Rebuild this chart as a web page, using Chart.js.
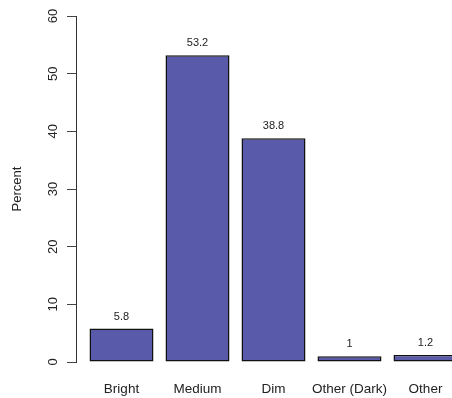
<!DOCTYPE html>
<html>
<head>
<meta charset="utf-8">
<script src="https://cdn.jsdelivr.net/npm/chart.js@4"></script>
<style>
  html, body { margin: 0; padding: 0; overflow: hidden; background: #fff; }
  #wrap { width: 472px; height: 398px; position: relative; }
</style>
</head>
<body>
<div id="wrap"><canvas id="chart"></canvas></div>
<script>
const categories = ["Bright", "Medium", "Dim", "Other (Dark)", "Other"];
const percents = [5.8, 53.2, 38.8, 1, 1.2];
const yTicks = [0, 10, 20, 30, 40, 50, 60];

const FONT = "'Liberation Sans', Arial, sans-serif";

// labels drawn above each bar
const valueLabels = {
  id: "valueLabels",
  afterDatasetsDraw(chart) {
    const ctx = chart.ctx;
    const meta = chart.getDatasetMeta(0);
    ctx.save();
    ctx.font = "11px " + FONT;
    ctx.fillStyle = "#222";
    ctx.textAlign = "center";
    ctx.textBaseline = "alphabetic";
    meta.data.forEach((bar, i) => {
      ctx.fillText(String(percents[i]), bar.x, bar.y - 9);
    });
    ctx.restore();
  },
};

new Chart(document.getElementById("chart"), {
  type: "bar",
  data: {
    datasets: [
      {
        data: percents.map((v, i) => ({ x: i, y: v })),
        backgroundColor: "rgb(90, 90, 170)",
        borderColor: "#111",
        borderWidth: 1.5,
        borderSkipped: false,
        inflateAmount: 0,
        barThickness: 64,
      },
    ],
  },
  options: {
    responsive: true,
    maintainAspectRatio: false,
    animation: false,
    layout: { padding: { top: 16, right: 0, bottom: 0, left: 0 } },
    plugins: {
      legend: { display: false },
      tooltip: { enabled: false },
    },
    scales: {
      x: {
        type: "linear",
        min: -0.5987,
        max: 4.6118,
        offset: false,
        grid: { display: false },
        border: { display: false },
        afterBuildTicks: (scale) => {
          scale.ticks = categories.map((c, i) => ({ value: i }));
        },
        afterFit: (scale) => {
          scale.height = 36;
        },
        ticks: {
          padding: 11,
          color: "#222",
          font: { family: FONT, size: 13.5 },
          maxRotation: 0,
          autoSkip: false,
          callback: (v) => categories[v],
        },
      },
      y: {
        min: 0,
        max: 60,
        afterBuildTicks: (scale) => {
          scale.ticks = yTicks.map((t) => ({ value: t }));
        },
        afterFit: (scale) => {
          scale.width = 76;
        },
        grid: {
          drawOnChartArea: false,
          drawTicks: true,
          tickLength: 9,
          color: "#444",
        },
        border: { display: true, color: "#333", width: 1 },
        ticks: {
          minRotation: 90,
          maxRotation: 90,
          crossAlign: "center",
          padding: 6,
          color: "#222",
          font: { family: FONT, size: 13 },
        },
        title: {
          display: true,
          text: "Percent",
          color: "#222",
          font: { family: FONT, size: 13 },
          padding: { top: 10, bottom: 0 },
        },
      },
    },
  },
  plugins: [valueLabels],
});
</script>
</body>
</html>
